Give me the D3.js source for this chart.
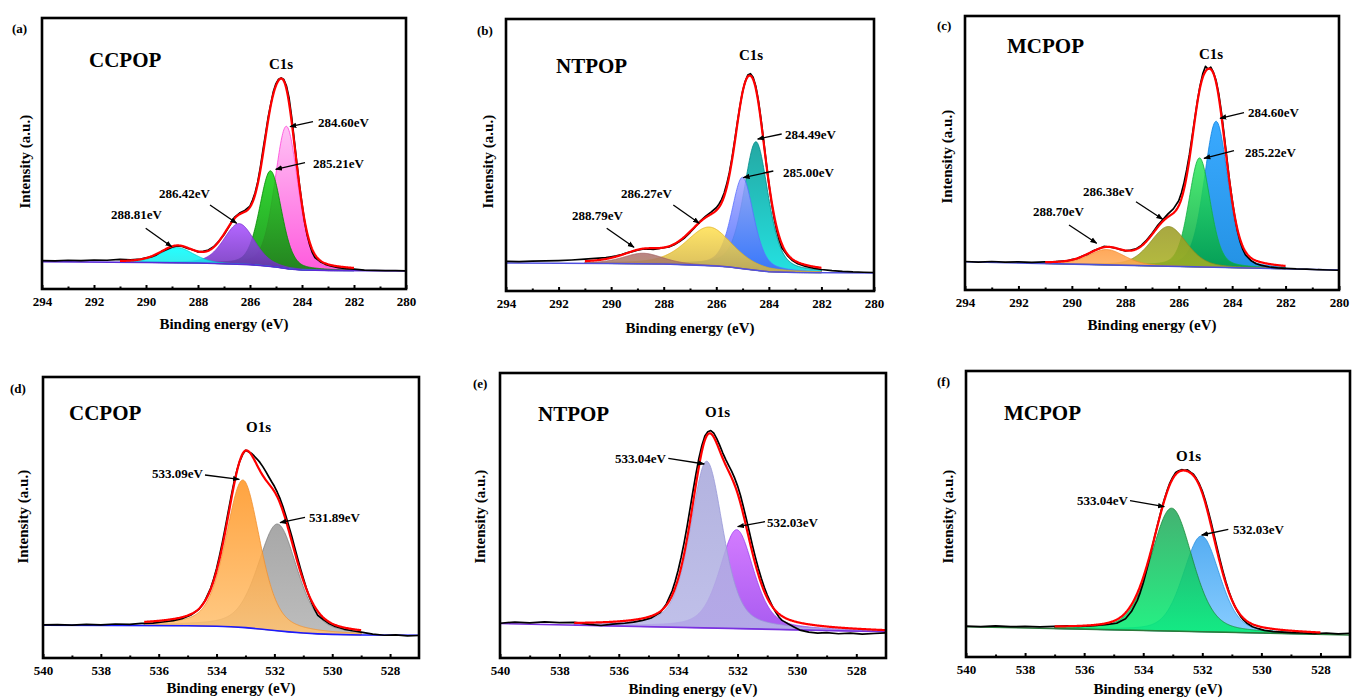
<!DOCTYPE html>
<html><head><meta charset="utf-8">
<script src="https://cdn.jsdelivr.net/npm/d3@7"></script>
<style>
html,body{margin:0;padding:0;background:#fff;}
svg text{font-family:"Liberation Serif","Times New Roman",serif;font-weight:bold;fill:#000;}
</style></head><body>
<svg id="chart" width="1352" height="698"></svg>
<script>
// ---------- data ----------
const c1sTicks = [294, 292, 290, 288, 286, 284, 282, 280];
const o1sTicks = [540, 538, 536, 534, 532, 530, 528];

// binding energies of the measured points (eV)
const c1sEnergy = [294,293.5,293,292.5,292,291.5,291,290.6,290.2,290.0,289.8,289.6,289.4,289.2,289.0,288.8,288.6,288.4,288.2,288.0,
  287.8,287.6,287.4,287.2,287.0,286.8,286.6,286.4,286.2,286.0,285.9,285.8,285.7,285.6,285.5,285.4,285.3,285.2,285.1,285.0,
  284.9,284.8,284.7,284.6,284.5,284.4,284.3,284.2,284.1,284.0,283.9,283.8,283.7,283.6,283.5,283.3,283.1,282.9,282.6,282.3,
  282.0,281.6,281.2,280.8,280.4,280.0];
const o1sEnergy = [540,539.5,539,538.5,538,537.5,537,536.6,536.2,535.8,535.5,535.2,534.9,534.6,534.4,534.2,534.1,534.0,533.9,533.8,
  533.7,533.6,533.5,533.4,533.3,533.2,533.1,533.0,532.9,532.8,532.7,532.6,532.5,532.4,532.3,532.2,532.1,532.0,531.9,531.8,
  531.7,531.6,531.5,531.4,531.3,531.2,531.1,531.0,530.9,530.8,530.7,530.6,530.5,530.3,530.1,529.9,529.6,529.3,529.0,528.6,
  528.2,527.8,527.4,527.0];

// (a) CCPOP, C1s
const aCounts = [10.5,10.4,10.6,10.5,10.7,10.6,10.9,10.8,11.0,11.5,11.8,12.6,13.8,14.6,15.4,15.9,15.7,15.0,14.5,13.7,
  13.9,14.4,15.6,17.6,20.0,23.1,26.4,28.0,29.0,30.6,32.8,35.6,39.6,45.0,51.3,57.2,63.4,68.3,72.9,75.8,
  77.4,77.9,77.3,75.0,70.6,63.6,55.2,46.6,38.6,31.4,24.9,19.9,16.2,13.4,11.6,10.1,9.1,8.5,7.9,7.5,
  7.3,7.0,6.9,6.8,6.8,6.7];
const aCenters = [284.60, 285.21, 286.42, 288.81];
const aHeights = [52.5, 35.3, 15.0, 5.6];
const aWidths = [1.05, 1.0, 1.4, 1.5];
const aMix = 0.3;
const aFit = [291, 282];
const aBaseline = [[294,10.1],[290,9.8],[288,9.6],[287,9.3],[286,9.0],[285.5,8.6],[285,8.1],[284.5,7.4],[284,7.0],[283,6.8],[280,6.7]];

// (b) NTPOP, C1s
const bCounts = [10.9,10.8,11.0,11.1,11.2,11.4,11.7,12.0,12.3,12.6,12.9,13.4,14.0,14.5,15.0,15.4,15.5,15.3,15.6,15.9,
  16.2,17.0,18.2,19.6,21.5,23.6,25.8,27.5,29.0,30.6,31.9,33.6,36.0,39.4,43.6,49.0,55.3,61.8,68.0,73.3,
  77.0,79.4,79.9,78.6,75.4,70.2,63.3,55.4,47.2,39.5,32.6,26.8,22.2,18.6,15.8,13.1,11.2,10.0,9.0,8.4,
  7.9,7.5,7.2,7.0,6.9,6.8];
const bCenters = [284.49, 285.00, 286.27, 288.79];
const bHeights = [47.3, 33.6, 14.2, 3.9];
const bWidths = [1.1, 1.0, 2.1, 1.8];
const bMix = 0.45;
const bFit = [291, 282];
const bBaseline = [[294,10.3],[290,10.1],[288,9.9],[287,9.6],[286,9.2],[285.5,8.8],[285,8.2],[284.5,7.6],[284,7.1],[283,6.8],[280,6.6]];

// (c) MCPOP, C1s
const cCounts = [10.4,10.2,10.4,10.2,10.3,10.1,10.3,10.4,10.6,11.1,11.5,12.4,13.1,14.3,15.0,15.9,15.7,15.4,14.8,14.3,
  14.6,15.0,16.3,18.2,20.6,23.4,25.6,27.8,29.6,32.6,35.4,39.2,43.9,49.4,55.9,62.5,68.9,74.6,78.9,81.6,
  80.6,81.3,79.4,76.4,71.5,64.7,56.6,48.3,40.0,33.0,26.6,21.5,17.6,14.8,12.8,10.8,9.6,9.0,8.4,8.1,
  7.9,7.7,7.6,7.4,7.3,7.2];
const cCenters = [284.60, 285.22, 286.38, 288.70];
const cHeights = [53.3, 39.8, 14.5, 5.6];
const cWidths = [1.05, 0.95, 1.6, 1.6];
const cMix = 0.3;
const cFit = [291, 282];
const cBaseline = [[294,10.3],[280,7.3]];

// (d) CCPOP, O1s
const dCounts = [11.8,11.9,11.7,12.0,11.8,12.1,12.0,12.3,12.4,12.9,13.3,14.0,15.2,17.4,20.4,24.9,28.1,31.8,36.2,41.0,
  46.3,51.8,57.2,62.3,66.6,70.0,72.4,73.9,73.4,72.9,71.9,70.8,69.6,68.1,66.4,64.6,62.8,61.1,59.0,56.6,
  53.7,50.4,46.9,43.3,39.4,35.6,31.9,28.4,25.0,22.0,19.4,17.1,15.2,13.6,12.2,11.2,10.3,9.7,9.2,8.5,
  8.1,8.2,7.9,8.0];
const dCenters = [533.09, 531.89];
const dHeights = [52.5, 38.0];
const dWidths = [1.4, 1.6];
const dMix = 0.4;
const dFit = [536.5, 529];
const dBaseline = [[540,11.7],[535,11.5],[534,11.3],[533.5,11.1],[533,10.8],[532.5,10.3],[532,9.8],[531.5,9.3],[531,8.9],[530.5,8.6],[530,8.4],[529,8.2],[527,8.1]];

// (e) NTPOP, O1s
const eCounts = [12.2,12.6,12.3,12.7,12.4,12.5,11.8,11.4,11.9,12.2,12.6,13.2,14.1,16.0,18.9,23.6,26.9,30.8,35.3,40.4,
  46.1,52.3,58.6,64.6,70.1,74.6,77.9,79.4,79.8,78.9,77.0,74.6,72.0,69.7,67.6,65.6,63.2,60.4,57.0,52.9,
  48.6,44.1,39.6,35.4,31.5,28.0,24.8,22.1,19.8,17.6,15.9,14.3,13.2,12.0,10.9,9.8,9.1,8.7,8.9,8.5,
  8.7,8.4,8.6,8.8];
const eCenters = [533.04, 532.03];
const eHeights = [58.5, 34.7];
const eWidths = [1.3, 1.35];
const eMix = 0.45;
const eFit = [537.5, 527];
const eBaseline = [[540,12.1],[527,9.2]];

// (f) MCPOP, O1s
const fCounts = [10.8,10.6,10.9,10.6,10.7,10.5,10.7,10.9,10.7,10.9,11.1,11.4,11.8,13.4,15.9,19.8,22.6,25.9,29.8,33.9,
  38.2,42.6,46.8,50.9,54.6,57.9,60.8,62.9,64.5,65.1,65.5,65.3,65.4,64.6,63.9,62.4,60.5,58.0,54.8,51.1,
  47.0,42.6,38.2,33.9,29.9,26.2,22.9,20.1,17.7,15.8,14.1,12.9,11.9,10.6,9.9,9.3,8.9,8.7,8.5,8.4,
  8.2,8.4,8.1,8.3];
const fCenters = [533.04, 532.03];
const fHeights = [43.0, 33.5];
const fWidths = [1.65, 1.45];
const fMix = 0.3;
const fFit = [537, 528];
const fBaseline = [[540,10.6],[527,7.7]];

// ---------- layout & style ----------
const panels = [
  {tag:'(a)', name:'CCPOP', core:'C1s', energy:c1sEnergy, counts:aCounts, centers:aCenters, heights:aHeights, widths:aWidths, mix:aMix, fit:aFit, baseline:aBaseline,
   ticks:c1sTicks, xEnd:280, frame:[42,18,406,289], tagPos:[12,33], namePos:[89,67], corePos:[269,69],
   labelPos:[[318,126.7],[313,168.3],[159,198.3],[111,219.3]],
   arrows:[[313,121.7,290,126.7],[305,162.7,275.7,169.3],[210,205,236.7,223.3],[145.7,228.3,171.7,246.7]],
   fills:[['#ffb8f3','#ff40d8'],['#10d010','#008a00'],['#a64dff','#6a2ab8'],['#00ffff','#20e0e0']],
   strokes:['#ff40d8','#008a00','#7a30d0','#00c8c8'], baseColor:'#5a2ad8', ylab:[25,161.7], xlab:[224,329]},
  {tag:'(b)', name:'NTPOP', core:'C1s', energy:c1sEnergy, counts:bCounts, centers:bCenters, heights:bHeights, widths:bWidths, mix:bMix, fit:bFit, baseline:bBaseline,
   ticks:c1sTicks, xEnd:280, frame:[506,19,874,291], tagPos:[477,35], namePos:[556,72.7], corePos:[739,60],
   labelPos:[[785,139.3],[783,176.7],[621,198.3],[572,220]],
   arrows:[[781.7,134,757.7,139],[773.3,171,743.3,177.7],[673.3,205,699.3,223.3],[606.7,228.3,634,247.3]],
   fills:[['#009a94','#00dcdc'],['#a4a4ff','#3a66ff'],['#ffe050','#d0b040'],['#b07070','#a08858']],
   strokes:['#008a88','#5a70ff','#e0b020','#a06060'], baseColor:'#5050e0', ylab:[488,161.7], xlab:[690,332.7]},
  {tag:'(c)', name:'MCPOP', core:'C1s', energy:c1sEnergy, counts:cCounts, centers:cCenters, heights:cHeights, widths:cWidths, mix:cMix, fit:cFit, baseline:cBaseline,
   ticks:c1sTicks, xEnd:280, frame:[965,16,1339,290], tagPos:[937,30], namePos:[1007,52.7], corePos:[1199,59.3],
   labelPos:[[1248,117.3],[1245,156.7],[1083,196],[1033,216]],
   arrows:[[1244,112.7,1220,118.3],[1234,150.7,1204,158.3],[1136,201.7,1162.7,219.3],[1069,225,1096.7,243.3]],
   fills:[['#1a9cff','#0080e0'],['#30ea5c','#00a040'],['#9a9a22','#a8b020'],['#ff9a40','#ffad5a']],
   strokes:['#0a80e0','#10b040','#8a8a20','#f08a30'], baseColor:'#4a50d8', ylab:[946.7,156.7], xlab:[1152,330]},
  {tag:'(d)', name:'CCPOP', core:'O1s', energy:o1sEnergy, counts:dCounts, centers:dCenters, heights:dHeights, widths:dWidths, mix:dMix, fit:dFit, baseline:dBaseline,
   ticks:o1sTicks, xEnd:527, frame:[43,377,419,658], tagPos:[10,393], namePos:[69,420], corePos:[246,432.3],
   labelPos:[[152,478.3],[309,521.7]],
   arrows:[[205,475,239.3,479.3],[305,517.3,280,522.7]],
   fills:[['#ff9420','#ffc272'],['#999999','#b2b2b2']],
   strokes:['#f09030','#808080'], baseColor:'#1a1aff', ylab:[22.7,516.7], xlab:[231,693.3]},
  {tag:'(e)', name:'NTPOP', core:'O1s', energy:o1sEnergy, counts:eCounts, centers:eCenters, heights:eHeights, widths:eWidths, mix:eMix, fit:eFit, baseline:eBaseline,
   ticks:o1sTicks, xEnd:527, frame:[500,373,886,658], tagPos:[473,388], namePos:[538,421], corePos:[705,417.3],
   labelPos:[[615,462.7],[767,526.7]],
   arrows:[[668.3,458.3,704.3,464],[765,521.7,737.7,526.7]],
   fills:[['#a6a6da','#b6b6e6'],['#cc66ff','#9a40ee']],
   strokes:['#9898d8','#9a40ee'], baseColor:'#7a30e0', ylab:[480,516.7], xlab:[693,694]},
  {tag:'(f)', name:'MCPOP', core:'O1s', energy:o1sEnergy, counts:fCounts, centers:fCenters, heights:fHeights, widths:fWidths, mix:fMix, fit:fFit, baseline:fBaseline,
   ticks:o1sTicks, xEnd:527, frame:[966,371,1350,657], tagPos:[937,386], namePos:[1004,420], corePos:[1176,460.7],
   labelPos:[[1077,505],[1233,534]],
   arrows:[[1130,500.7,1164.3,506.7],[1228.3,529.3,1201.7,535]],
   fills:[['#25a55a','#00f070'],['#3aa0f0','#74c4ff']],
   strokes:['#1a8a3a','#2a90e0'], baseColor:'#2a7a3a', ylab:[948,516.7], xlab:[1158,694.3]}
];

// ---------- drawing ----------
const svg = d3.select('#chart');
const defs = svg.append('defs');
defs.append('marker').attr('id','arrowhead').attr('viewBox','0 0 10 10')
  .attr('refX',9).attr('refY',5).attr('markerWidth',7).attr('markerHeight',7)
  .attr('markerUnits','userSpaceOnUse').attr('orient','auto')
  .append('path').attr('d','M0,1.2 L10,5 L0,8.8 Z').attr('fill','#000');

// Gaussian-Lorentzian (pseudo-Voigt) shape of one fitted component
function peak(E, c, h, w, mix) {
  const t = (E - c) / w;
  return h * ((1 - mix) * Math.exp(-4 * Math.LN2 * t * t) + mix / (1 + 4 * t * t));
}

panels.forEach((p, pi) => {
  const [L, T, R, B] = p.frame;
  const g = svg.append('g');
  const x = d3.scaleLinear().domain([p.ticks[0], p.xEnd]).range([L, R]);
  const y = d3.scaleLinear().domain([0, 100]).range([B, T]);
  const base = d3.scaleLinear().domain(p.baseline.map(d => d[0])).range(p.baseline.map(d => d[1])).clamp(true);

  const clipId = 'clip' + pi;
  defs.append('clipPath').attr('id', clipId).append('rect')
    .attr('x', L).attr('y', T).attr('width', R - L).attr('height', B - T);
  const plot = g.append('g').attr('clip-path', `url(#${clipId})`);

  // evaluation grid for the fitted curves
  const grid = d3.range(p.fit[0], p.fit[1] - 1e-9, -0.02);
  const order = d3.range(p.centers.length).sort((i, j) => p.centers[i] - p.centers[j]);

  // fitted components, filled above the background
  order.forEach(i => {
    const gid = `grad${pi}_${i}`;
    const lg = defs.append('linearGradient').attr('id', gid)
      .attr('x1', 0).attr('y1', 0).attr('x2', 0).attr('y2', 1);
    lg.append('stop').attr('offset', '0%').attr('stop-color', p.fills[i][0]);
    lg.append('stop').attr('offset', '100%').attr('stop-color', p.fills[i][1]);
    const area = d3.area()
      .x(E => x(E))
      .y0(E => y(base(E)))
      .y1(E => y(base(E) + peak(E, p.centers[i], p.heights[i], p.widths[i], p.mix)));
    plot.append('path').attr('d', area(grid))
      .attr('fill', `url(#${gid})`).attr('fill-opacity', 0.86)
      .attr('stroke', p.strokes[i]).attr('stroke-width', 0.8);
  });

  // background line
  plot.append('path').attr('d', d3.line().x(d => x(d[0])).y(d => y(d[1]))(p.baseline))
    .attr('fill', 'none').attr('stroke', p.baseColor).attr('stroke-width', 1.6);

  // measured spectrum
  const raw = p.energy.map((E, i) => [E, p.counts[i]]);
  plot.append('path').attr('d', d3.line().x(d => x(d[0])).y(d => y(d[1]))(raw))
    .attr('fill', 'none').attr('stroke', '#000').attr('stroke-width', 1.7).attr('stroke-linejoin', 'round');

  // fitted envelope
  const envelope = d3.line().x(E => x(E))
    .y(E => y(base(E) + d3.sum(p.centers, (c, i) => peak(E, c, p.heights[i], p.widths[i], p.mix))));
  plot.append('path').attr('d', envelope(grid))
    .attr('fill', 'none').attr('stroke', '#ff0000').attr('stroke-width', 2.2).attr('stroke-linejoin', 'round');

  // frame
  g.append('rect').attr('x', L).attr('y', T).attr('width', R - L).attr('height', B - T)
    .attr('fill', 'none').attr('stroke', '#000').attr('stroke-width', 2.6);

  // bottom axis: labelled major ticks and short minor ticks, both pointing inward
  const minor = d3.range(x.domain()[0] - 1, x.domain()[1], -2);
  g.append('g').attr('transform', `translate(0,${B})`)
    .call(d3.axisBottom(x).tickValues(minor).tickSize(-2.5).tickFormat(''))
    .call(a => a.select('.domain').remove())
    .call(a => a.selectAll('line').attr('stroke', '#000').attr('stroke-width', 2));
  const ax = g.append('g').attr('transform', `translate(0,${B})`)
    .call(d3.axisBottom(x).tickValues(p.ticks).tickSize(-4).tickFormat(d3.format('d')))
    .call(a => a.select('.domain').remove());
  ax.selectAll('line').attr('stroke', '#000').attr('stroke-width', 2);
  ax.selectAll('text').attr('y', 17).attr('dy', null)
    .style('font-family', '"Liberation Serif",serif').style('font-weight', 'bold')
    .style('font-size', '13px').attr('fill', '#000');

  // texts
  g.append('text').attr('x', p.tagPos[0]).attr('y', p.tagPos[1]).style('font-size', '13px').text(p.tag);
  g.append('text').attr('x', p.namePos[0]).attr('y', p.namePos[1]).style('font-size', '21px').text(p.name);
  g.append('text').attr('x', p.corePos[0]).attr('y', p.corePos[1]).style('font-size', '15px').text(p.core);
  g.append('text').attr('transform', `translate(${p.ylab[0]},${p.ylab[1]}) rotate(-90)`)
    .attr('text-anchor', 'middle').attr('dy', '0.35em').style('font-size', '15px').text('Intensity (a.u.)');
  g.append('text').attr('x', p.xlab[0]).attr('y', p.xlab[1]).attr('text-anchor', 'middle')
    .style('font-size', '15px').text('Binding energy (eV)');

  // peak position labels with arrows
  p.centers.forEach((c, i) => {
    g.append('text').attr('x', p.labelPos[i][0]).attr('y', p.labelPos[i][1])
      .style('font-size', '13px').text(d3.format('.2f')(c) + 'eV');
    const a = p.arrows[i];
    g.append('line').attr('x1', a[0]).attr('y1', a[1]).attr('x2', a[2]).attr('y2', a[3])
      .attr('stroke', '#000').attr('stroke-width', 1.3).attr('marker-end', 'url(#arrowhead)');
  });
});
</script>
</body></html>
